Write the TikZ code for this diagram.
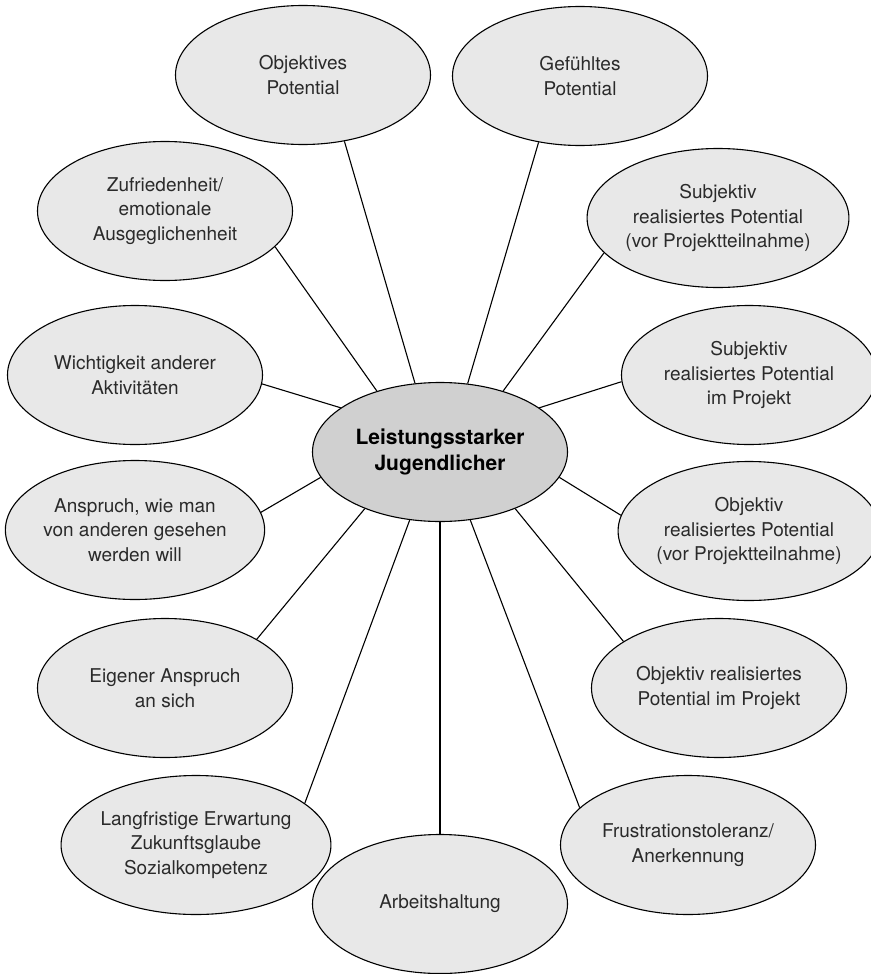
\documentclass[tikz,border=0pt]{standalone}
\usepackage{fontspec}
\setmainfont{TeX Gyre Heros}
\usepackage{tikz}
\usetikzlibrary{shapes.geometric}
\definecolor{bubbleGray}{HTML}{E8E8E8}
\definecolor{coreGray}{HTML}{D0D0D0}
\definecolor{textGray}{HTML}{2A2A2A}

\begin{document}
\begin{tikzpicture}[
    x=1pt, y=-1pt,
    bubble/.style={ellipse, draw, line width=1.1pt, fill=bubbleGray, minimum width=255pt, minimum height=139pt, inner sep=0pt, align=center, text=textGray, font=\fontsize{19}{24.5}\selectfont},
    core/.style={bubble, fill=coreGray, text=black, font=\fontsize{21}{25.5}\selectfont\bfseries},
    link/.style={line width=1.1pt},
]
    \useasboundingbox (0,0) rectangle (870,974);

    % centre
    \node[core] (kern) at (440,452) {Leistungsstarker\\Jugendlicher};

    % surrounding factors
    \node[bubble] (objpot) at (303,75) {Objektives\\Potential};
    \node[bubble] (gefpot) at (580,76) {Gefühltes\\Potential};
    \node[bubble] (zufr) at (165,211) {Zufriedenheit/\\emotionale\\Ausgeglichenheit};
    \node[bubble] (subjvor) at (718,218) {Subjektiv\\realisiertes Potential\\(vor Projektteilnahme)};
    \node[bubble] (wicht) at (135,375) {Wichtigkeit anderer\\Aktivitäten};
    \node[bubble] (subjproj) at (749,375) {Subjektiv\\realisiertes Potential\\im Projekt};
    \node[bubble] (anspr) at (135,530) {Anspruch, wie man\\von anderen gesehen\\werden will};
    \node[bubble] (objvor) at (749,531) {Objektiv\\realisiertes Potential\\(vor Projektteilnahme)};
    \node[bubble] (eigen) at (165,688) {Eigener Anspruch\\an sich};
    \node[bubble] (objproj) at (719,688) {Objektiv realisiertes\\Potential im Projekt};
    \node[bubble] (langf) at (196,845) {Langfristige Erwartung\\Zukunftsglaube\\Sozialkompetenz};
    \node[bubble] (frust) at (688,845) {Frustrationstoleranz/\\Anerkennung};
    \node[bubble] (arbeit) at (440,904) {Arbeitshaltung};

    % spokes
    \draw[link] (objpot.-58) -- (kern.110);
    \draw[link] (gefpot.-122) -- (kern.68);
    \draw[link] (zufr.-18) -- (kern.136);
    \draw[link] (subjvor.197) -- (kern.44);
    \draw[link] (wicht.-4) -- (kern.156);
    \draw[link] (subjproj.183) -- (kern.24);
    \draw[link] (anspr.8) -- (kern.192);
    \draw[link] (objvor.173) -- (kern.-12);
    \draw[link] (eigen.28) -- (kern.217);
    \draw[link] (objproj.154) -- (kern.-37);
    \draw[link] (langf.21) -- (kern.246);
    \draw[link] (frust.161) -- (kern.-66);
    \draw[link] (arbeit.north) -- (kern.south);
\end{tikzpicture}
\end{document}
